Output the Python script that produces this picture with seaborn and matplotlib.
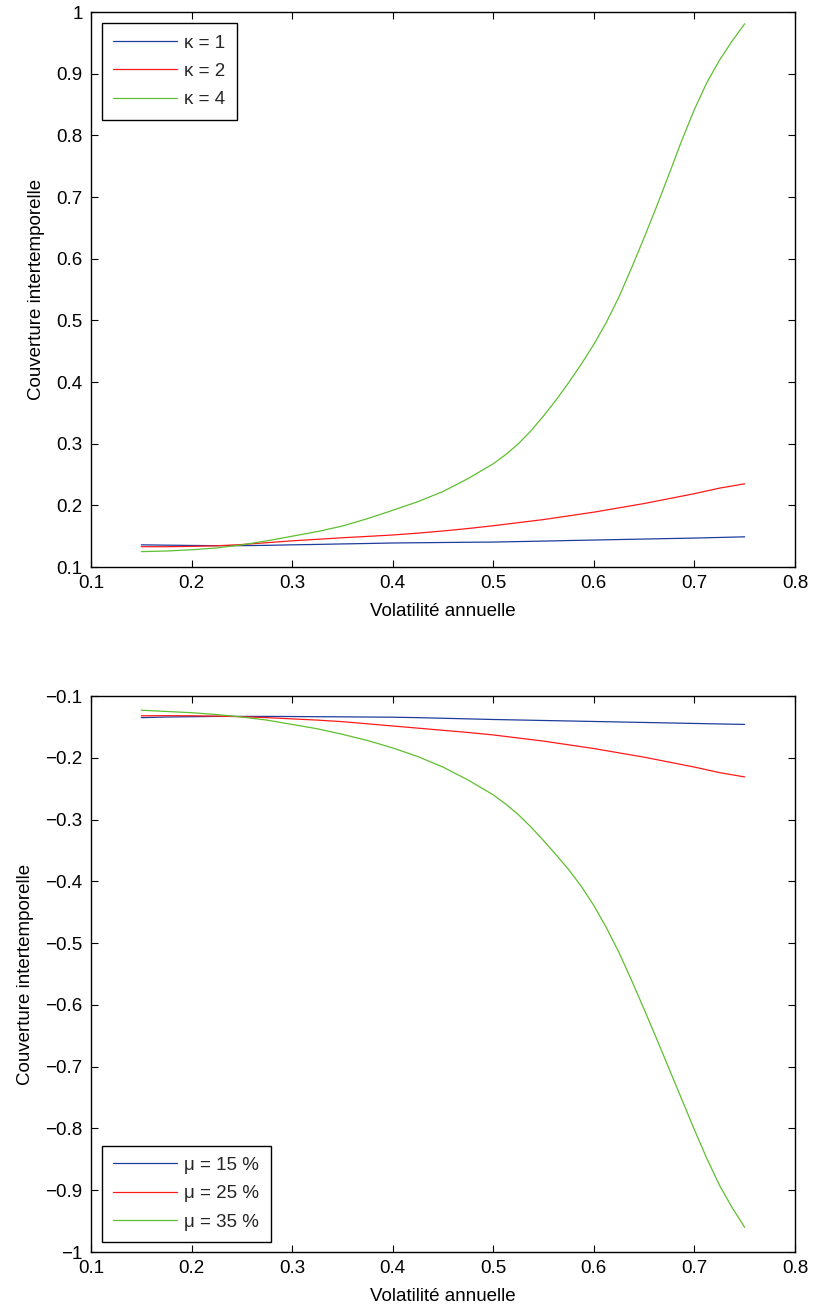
import numpy as np
import pandas as pd
import matplotlib
matplotlib.use('Agg')
import matplotlib.pyplot as plt
import seaborn as sns

# volatility grid (x axis), finer where the curves bend
vol = [0.150, 0.175, 0.200, 0.225, 0.250, 0.275, 0.300, 0.325, 0.350, 0.375,
       0.400, 0.425, 0.450, 0.475, 0.500,
       0.5125, 0.525, 0.5375, 0.550, 0.5625, 0.575, 0.5875, 0.600, 0.6125, 0.625,
       0.6375, 0.650, 0.6625, 0.675, 0.6875, 0.700, 0.7125, 0.725, 0.7375, 0.750]

# top panel: kappa = 1, 2, 4
kappa_1 = [0.136, 0.1355, 0.135, 0.1347, 0.1347, 0.1352, 0.136, 0.1367, 0.1375, 0.1382,
           0.139, 0.1394, 0.1398, 0.1402, 0.1405,
           0.1409, 0.1413, 0.1417, 0.1421, 0.1425, 0.143, 0.1434, 0.1438, 0.1442, 0.1446,
           0.145, 0.1454, 0.1458, 0.1462, 0.1466, 0.147, 0.1475, 0.148, 0.1485, 0.149]
kappa_2 = [0.133, 0.133, 0.1335, 0.1345, 0.1365, 0.1395, 0.1425, 0.145, 0.1475, 0.1497,
           0.152, 0.155, 0.1585, 0.1625, 0.167,
           0.1695, 0.172, 0.1745, 0.177, 0.180, 0.183, 0.186, 0.189, 0.1925, 0.196,
           0.1995, 0.203, 0.207, 0.211, 0.215, 0.219, 0.2235, 0.228, 0.2315, 0.235]
kappa_4 = [0.125, 0.126, 0.128, 0.131, 0.136, 0.1425, 0.150, 0.1575, 0.1665, 0.1785,
           0.192, 0.206, 0.2225, 0.2435, 0.2675,
           0.2825, 0.300, 0.321, 0.345, 0.371, 0.399, 0.429, 0.461, 0.497, 0.538,
           0.585, 0.634, 0.685, 0.738, 0.792, 0.842, 0.886, 0.922, 0.953, 0.981]

# bottom panel: mu = 15 %, 25 %, 35 %
mu_15 = [-0.135, -0.134, -0.1335, -0.133, -0.133, -0.133, -0.1332, -0.1335, -0.1337, -0.134,
         -0.1343, -0.135, -0.136, -0.137, -0.138,
         -0.1384, -0.1388, -0.1392, -0.1396, -0.140, -0.1404, -0.1408, -0.1412, -0.1416, -0.142,
         -0.1424, -0.1428, -0.1432, -0.1436, -0.144, -0.1444, -0.1448, -0.1452, -0.1456, -0.146]
mu_25 = [-0.132, -0.1318, -0.132, -0.1325, -0.1335, -0.135, -0.137, -0.139, -0.1415, -0.145,
         -0.1485, -0.152, -0.1555, -0.159, -0.163,
         -0.1655, -0.168, -0.1705, -0.173, -0.176, -0.179, -0.182, -0.185, -0.1885, -0.192,
         -0.1955, -0.199, -0.203, -0.207, -0.211, -0.215, -0.2195, -0.224, -0.2275, -0.231]
mu_35 = [-0.123, -0.125, -0.127, -0.130, -0.134, -0.139, -0.146, -0.153, -0.162, -0.172,
         -0.184, -0.198, -0.215, -0.236, -0.260,
         -0.275, -0.292, -0.312, -0.334, -0.357, -0.381, -0.408, -0.439, -0.475, -0.515,
         -0.560, -0.607, -0.655, -0.704, -0.753, -0.802, -0.849, -0.892, -0.928, -0.960]

top_labels = ['\u03ba = 1', '\u03ba = 2', '\u03ba = 4']
bottom_labels = ['\u03bc = 15 %', '\u03bc = 25 %', '\u03bc = 35 %']
line_colors = ['#1f3c9c', '#ff1a1a', '#5fbf30']

xticks = [0.1, 0.2, 0.3, 0.4, 0.5, 0.6, 0.7, 0.8]
xtick_labels = ['0.1', '0.2', '0.3', '0.4', '0.5', '0.6', '0.7', '0.8']
yticks_top = [0.1, 0.2, 0.3, 0.4, 0.5, 0.6, 0.7, 0.8, 0.9, 1.0]
ytick_labels_top = ['0.1', '0.2', '0.3', '0.4', '0.5', '0.6', '0.7', '0.8', '0.9', '1']
yticks_bottom = [-1.0, -0.9, -0.8, -0.7, -0.6, -0.5, -0.4, -0.3, -0.2, -0.1]
ytick_labels_bottom = ['\u22121', '\u22120.9', '\u22120.8', '\u22120.7', '\u22120.6',
                       '\u22120.5', '\u22120.4', '\u22120.3', '\u22120.2', '\u22120.1']

#building long tables for seaborn
n = len(vol)
top_df = pd.DataFrame({'vol': vol * 3,
                       'value': kappa_1 + kappa_2 + kappa_4,
                       'serie': [top_labels[0]] * n + [top_labels[1]] * n + [top_labels[2]] * n})
bottom_df = pd.DataFrame({'vol': vol * 3,
                          'value': mu_15 + mu_25 + mu_35,
                          'serie': [bottom_labels[0]] * n + [bottom_labels[1]] * n + [bottom_labels[2]] * n})

#setting parameters
sns.set_theme(style='white')
plt.rcParams['font.family'] = ['Liberation Sans', 'DejaVu Sans']

FS = 13.5

fig = plt.figure(figsize=(8.13, 13.12), dpi=100)
ax_top = fig.add_axes([0.1119, 0.5678, 0.8659, 0.4230])
ax_bot = fig.add_axes([0.1119, 0.0457, 0.8659, 0.4238])


def style_axis(ax, yticks, ylabels, ylim):
    ax.set_xlim(0.1, 0.8)
    ax.set_ylim(*ylim)
    ax.set_xticks(xticks)
    ax.set_xticklabels(xtick_labels)
    ax.set_yticks(yticks)
    ax.set_yticklabels(ylabels)
    ax.tick_params(direction='in', length=5, width=0.8, color='black', labelsize=FS,
                   top=True, right=True, bottom=True, left=True, pad=6, labelcolor='black')
    for sp in ax.spines.values():
        sp.set_color('black')
        sp.set_linewidth(1.0)
    ax.set_xlabel('Volatilit\u00e9 annuelle', fontsize=FS, color='black', labelpad=8)
    ax.set_ylabel('Couverture intertemporelle', fontsize=FS, color='black', labelpad=8)


def add_legend(ax, loc, anchor):
    leg = ax.legend(loc=loc, fontsize=FS, frameon=True, fancybox=False,
                    edgecolor='black', framealpha=1, handlelength=3.4, handletextpad=0.4,
                    borderpad=0.6, labelspacing=0.6, borderaxespad=0,
                    bbox_to_anchor=anchor)
    leg.get_frame().set_linewidth(1.0)


sns.lineplot(data=top_df, x='vol', y='value', hue='serie', palette=line_colors,
             linewidth=0.9, ax=ax_top)
style_axis(ax_top, yticks_top, ytick_labels_top, (0.1, 1.0))
add_legend(ax_top, 'upper left', (0.0156, 0.980))

sns.lineplot(data=bottom_df, x='vol', y='value', hue='serie', palette=line_colors,
             linewidth=0.9, ax=ax_bot)
style_axis(ax_bot, yticks_bottom, ytick_labels_bottom, (-1.0, -0.1))
add_legend(ax_bot, 'lower left', (0.0156, 0.018))

fig.savefig('out.png', dpi=100)
